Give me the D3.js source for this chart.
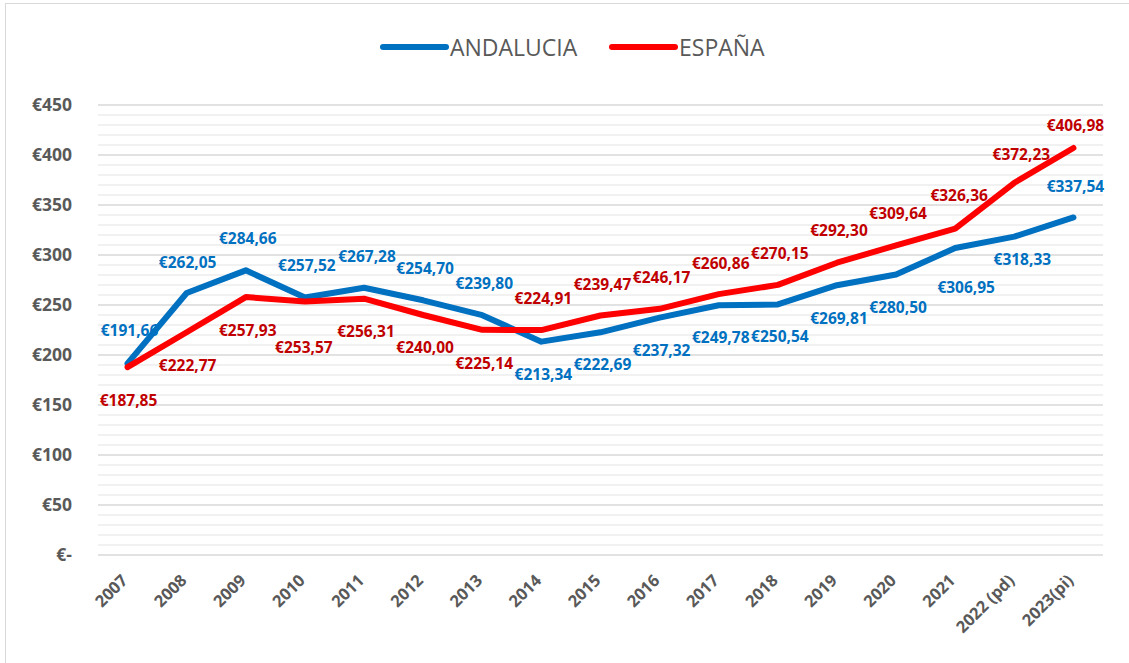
<!DOCTYPE html>
<html>
<head>
<meta charset="utf-8">
<script src="https://cdn.jsdelivr.net/npm/d3@7"></script>
<style>
  html, body { margin: 0; padding: 0; background: #ffffff; }
  svg { display: block; font-family: "Open Sans", "Noto Sans", sans-serif; }
</style>
</head>
<body>
<div id="chart"></div>
<script>
// Precio medio mensual: Andalucía frente a España, 2007–2023.

const YEARS = ["2007", "2008", "2009", "2010", "2011", "2012", "2013", "2014", "2015",
  "2016", "2017", "2018", "2019", "2020", "2021", "2022 (pd)", "2023(pi)"];

const ANDALUCIA = [191.66, 262.05, 284.66, 257.52, 267.28, 254.70, 239.80, 213.34, 222.69,
  237.32, 249.78, 250.54, 269.81, 280.50, 306.95, 318.33, 337.54];

const ESPANA = [187.85, 222.77, 257.93, 253.57, 256.31, 240.00, 225.14, 224.91, 239.47,
  246.17, 260.86, 270.15, 292.30, 309.64, 326.36, 372.23, 406.98];

const Y_TICKS = [0, 50, 100, 150, 200, 250, 300, 350, 400, 450];

const SERIES_NAMES = ["ANDALUCIA", "ESPAÑA"];

// label placement (pixel offsets from each point)
const LABEL_OFFSETS = {
  ANDALUCIA: [[2, -33], [1, -31], [2, -32], [2, -32], [3, -32], [2, -32], [2, -32], [2, 32], [2, 32],
    [2, 32], [2, 32], [2, 32], [2, 33], [2, 32], [11, 39], [8, 22], [2, -31]],
  ESPANA: [[1, 33], [1, 33], [2, 33], [-1, 46], [2, 32], [2, 32], [2, 33], [2, -32], [2, -32],
    [2, -32], [2, -31], [2, -32], [2, -33], [2, -32], [4, -34], [7, -29], [2, -23]],
};

const W = 1129, H = 663;
const PLOT = { left: 98, right: 1103, top: 105, bottom: 555 };

const C = {
  blue: "#0070c0",
  red: "#ff0000",
  redText: "#c00000",
  axis: "#595959",
  major: "#d9d9d9",
  minor: "#ececec",
  border: "#d9d9d9",
};

const euro = (v) => "€" + v.toFixed(2).replace(".", ",");

const svg = d3.select("#chart").append("svg")
  .attr("width", W)
  .attr("height", H)
  .attr("viewBox", [0, 0, W, H]);

svg.append("rect")
  .attr("x", 5.5).attr("y", 3.5)
  .attr("width", W + 20).attr("height", H + 20)
  .attr("fill", "#ffffff")
  .attr("stroke", C.border);

const x = d3.scalePoint().domain(YEARS).range([PLOT.left, PLOT.right]).padding(0.5);
const y = d3.scaleLinear().domain([0, 450]).range([PLOT.bottom, PLOT.top]);

// minor grid every 10, major every 50
const minor = d3.range(0, 451, 10).filter((v) => v % 50 !== 0);
svg.append("g")
  .selectAll("line")
  .data(minor)
  .join("line")
  .attr("x1", PLOT.left).attr("x2", PLOT.right)
  .attr("y1", (d) => y(d)).attr("y2", (d) => y(d))
  .attr("stroke", C.minor)
  .attr("stroke-width", 1.5);

svg.append("g")
  .selectAll("line")
  .data(Y_TICKS)
  .join("line")
  .attr("x1", PLOT.left).attr("x2", PLOT.right)
  .attr("y1", (d) => y(d)).attr("y2", (d) => y(d))
  .attr("stroke", C.major)
  .attr("stroke-width", 1.5);

// y axis
svg.append("g")
  .attr("transform", `translate(${PLOT.left - 26},0)`)
  .call(d3.axisLeft(y).tickValues(Y_TICKS).tickSize(0)
    .tickFormat((d) => (d === 0 ? "€-" : "€" + d)))
  .call((g) => g.select(".domain").remove())
  .call((g) => g.selectAll("text")
    .attr("x", 0)
    .attr("fill", C.axis)
    .style("font-family", "'Open Sans', sans-serif")
    .style("font-size", "17.5px")
    .style("font-weight", "bold"));

// x axis
svg.append("g")
  .attr("transform", `translate(0,${PLOT.bottom})`)
  .call(d3.axisBottom(x).tickSize(0))
  .call((g) => g.select(".domain").remove())
  .call((g) => g.selectAll("text")
    .attr("y", 0)
    .attr("dy", null)
    .attr("text-anchor", "end")
    .attr("dominant-baseline", "central")
    .attr("transform", "translate(-4,22) rotate(-45)")
    .attr("fill", C.axis)
    .style("font-family", "'Open Sans', sans-serif")
    .style("font-size", "16.5px")
    .style("font-weight", "bold"));

// data labels (drawn under the lines, as in the original)
function labels(values, offsets, color) {
  svg.append("g")
    .selectAll("text")
    .data(values)
    .join("text")
    .attr("x", (d, i) => x(YEARS[i]) + offsets[i][0])
    .attr("y", (d, i) => y(d) + offsets[i][1])
    .attr("text-anchor", "middle")
    .attr("dominant-baseline", "central")
    .attr("fill", color)
    .style("font-size", "15.5px")
    .style("font-weight", "bold")
    .text(euro);
}
labels(ANDALUCIA, LABEL_OFFSETS.ANDALUCIA, C.blue);
labels(ESPANA, LABEL_OFFSETS.ESPANA, C.redText);

const line = d3.line()
  .x((d, i) => x(YEARS[i]))
  .y((d) => y(d));

[[ANDALUCIA, C.blue], [ESPANA, C.red]].forEach(([values, color]) => {
  svg.append("path")
    .datum(values)
    .attr("d", line)
    .attr("fill", "none")
    .attr("stroke", color)
    .attr("stroke-width", 6)
    .attr("stroke-linejoin", "round")
    .attr("stroke-linecap", "round");
});

// legend
const legend = svg.append("g");
const legendItems = [
  { name: SERIES_NAMES[0], color: C.blue, x0: 383 },
  { name: SERIES_NAMES[1], color: C.red, x0: 612 },
];
legendItems.forEach((item) => {
  legend.append("line")
    .attr("x1", item.x0).attr("x2", item.x0 + 63)
    .attr("y1", 47).attr("y2", 47)
    .attr("stroke", item.color)
    .attr("stroke-width", 6)
    .attr("stroke-linecap", "round");
  legend.append("text")
    .attr("x", item.x0 + 67)
    .attr("y", 47)
    .attr("dominant-baseline", "central")
    .attr("fill", C.axis)
    .style("font-size", "23px")
    .text(item.name);
});
</script>
</body>
</html>
